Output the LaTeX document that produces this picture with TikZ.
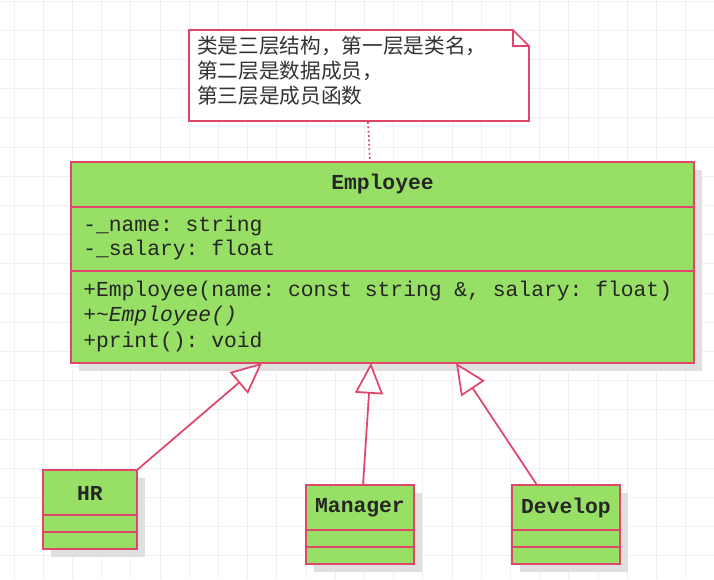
\documentclass[tikz,border=0pt]{standalone}
\usepackage{fontspec}
\setmainfont{Liberation Mono}
\newfontfamily\cjk{Noto Sans CJK SC}
\usetikzlibrary{arrows.meta}
\definecolor{umlgreen}{HTML}{97E065}
\definecolor{umlred}{HTML}{E0456A}
\definecolor{gridc}{HTML}{F0F0F0}
\begin{document}
\frenchspacing
\begin{tikzpicture}[x=0.75pt,y=-0.75pt,
  box/.style={draw=umlred,fill=umlgreen,line width=1.3pt},
  shadow/.style={fill=black!12},
  line/.style={draw=umlred,line width=1.3pt},
  inh/.style={draw=umlred,line width=1.3pt,-{Triangle[open,length=23pt,width=21pt,fill=white]}},
  mono/.style={font=\fontsize{16}{18}\selectfont,anchor=west,inner sep=0,text=black!85}]
\useasboundingbox (0,0) rectangle (714,579);
\fill[white] (0,0) rectangle (714,579);
\foreach \x in {14,43.2,...,714} \draw[gridc,line width=0.6pt] (\x,0) -- (\x,579);
\foreach \y in {1,30.2,...,579} \draw[gridc,line width=0.6pt] (0,\y) -- (714,\y);
% note
\path[draw=umlred,fill=white,line width=1.3pt] (189,30) -- (513,30) -- (529,46) -- (529,121) -- (189,121) -- cycle;
\draw[umlred,line width=1pt] (513,30) -- (513,46) -- (529,46);
\node[font=\cjk\fontsize{15.5}{18.8}\selectfont,anchor=north west,align=left,inner sep=0,text=black!80] (note) at (197,36) {类是三层结构，第一层是类名，\\第二层是数据成员，\\第三层是成员函数};
\coordinate (na) at (368,122);
% Employee
\fill[shadow] (79,170) rectangle (702,371);
\path[box] (71,162) rectangle (694,363);
\node (emp) at (382.5,262.5) {};
\draw[line] (71,207) -- (694,207) (71,271) -- (694,271);
\coordinate (ea) at (370,162);
\draw[umlred,line width=1.3pt,dotted] (na) -- (ea);
\node[mono,anchor=center,font=\fontsize{16}{18}\selectfont\bfseries] (t1) at (382.5,184) {Employee};
\node[mono] (a1) at (83,226) {-\_name: string};
\node[mono] (a2) at (83,250) {-\_salary: float};
\node[mono] (m1) at (83,291) {+Employee(name: const string \&, salary: float)};
\node[mono] (m2) at (83,316) {+\textasciitilde\itshape Employee()};
\node[mono] (m3) at (83,342) {+print(): void};
% small classes
\foreach \n/\xa/\xb/\ya/\lab in {hr/43/137/470/HR, mg/306/414/485/Manager, dv/512/620/485/Develop}{
  \fill[shadow] (\xa+8,\ya+8) rectangle (\xb+8,\ya+87);
  \path[box] (\xa,\ya) rectangle (\xb,\ya+79);
  \draw[line] (\xa,\ya+45) -- (\xb,\ya+45) (\xa,\ya+62) -- (\xb,\ya+62);
  \node[font=\fontsize{16}{18}\selectfont\bfseries,inner sep=0,text=black!85] (\n) at ({(\xa+\xb)/2},\ya+23) {\lab};
}
\coordinate (hrt) at (137,470);
\coordinate (mgt) at (363,485);
\coordinate (dvt) at (537,485);
\coordinate (e1) at (262,363);
\coordinate (e2) at (371,363);
\coordinate (e3) at (456,363);
\draw[inh] (hrt) -- (e1);
\draw[inh] (mgt) -- (e2);
\draw[inh] (dvt) -- (e3);
\end{tikzpicture}
\end{document}
